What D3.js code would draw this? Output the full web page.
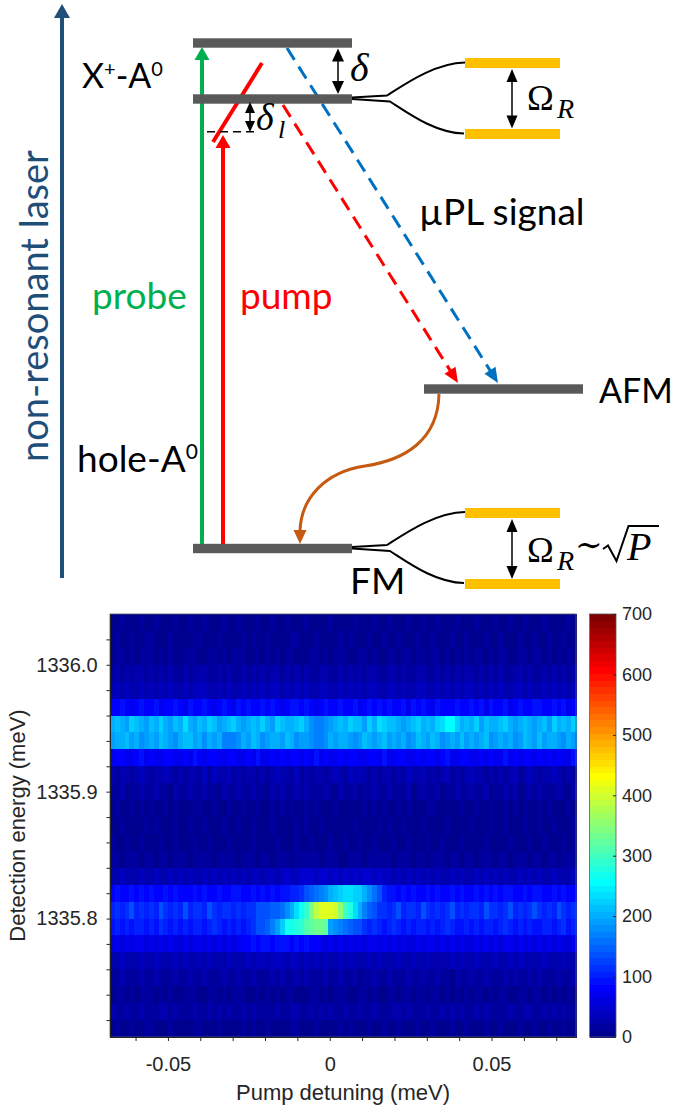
<!DOCTYPE html>
<html>
<head>
<meta charset="utf-8">
<script src="https://cdn.jsdelivr.net/npm/d3@7"></script>
<style>
  body { margin: 0; background: #fff; }
  svg { display: block; }
</style>
</head>
<body>
<svg id="fig" width="677" height="1108"></svg>
<script>
// ================= data =================
// Pump detuning grid (meV): first column centre and column step
const detuningStart = -0.06715;
const detuningStep = 0.0015;
const detuningCount = 96;
// Detection energy grid (meV): top row centre and row step (rows run high -> low)
const energyTop = 1336.03333;
const energyStep = 0.0133333;

// µPL intensity map, one string per energy row (top -> bottom).
// Each character is counts/12 in base 36; spaces only group columns by eight.
const intensityRows = [
  "00100010 01000100 10010001 00100010 01001000 10000100 00100010 01000100 10010001 00010001 00100100 01000010",
  "01001001 10001000 01100010 00010100 10000110 00100001 01000100 10010001 00100010 01000100 10001001 00100100",
  "01101011 10101001 11001101 01110010 10101100 01101011 10011010 01101101 10110101 01011010 11001101 10101010",
  "12121221 21212112 12221121 21121212 12212121 21122112 12121221 12212112 21121212 12212121 21122121 12121212",
  "23232232 32323223 23332232 32232323 23323232 32233223 23232332 23323223 32232323 23323232 32233232 23232323",
  "77876787 78677876 87787678 76878778 78767887 87678778 77867878 78778687 87687778 77878687 78678778 87787867",
  "hihgjihg ihjhgihk hgihjigh ijhghihj hgjihhij hfeefghi hjiigjhk jiihghij hihjkllj hihjgihh ijhghihg higjhihj",
  "ghhighfg hgihgfhi ighfhghe eefhgihf ghhgihfg gfeefhgh hgfgihgh ighghfgi hgihfghg ighghifg hghfgihg ighhgfhg",
  "67766786 76677667 68767766 77667686 67676776 76867667 67766776 86677667 67767866 77667676 68676776 76767668",
  "21221232 12232121 22131322 31212212 12322131 21221232 13232121 22121322 31212312 12322121 21231232 12232121",
  "11201121 12110211 21121102 11211211 02121121 21112102 11201121 12111201 21120112 11211201 12120121 21112102",
  "01001010 10010100 01100100 10010010 01010100 10100010 00001010 10010100 01100000 10010010 01010100 10100010",
  "00100001 01000100 10010001 00100100 01000010 10010000 00100001 01001000 10000100 00100010 01000100 10010001",
  "10010010 00100100 01001000 10000100 00100010 01000100 10010010 00100100 01001000 10000100 00100010 01000101",
  "11011101 10110111 01111011 11011101 10111011 11101110 01110111 11011101 10111011 01101110 11011101 10110111",
  "22322232 23223232 32232323 23232332 33234334 44344343 43434434 33232323 23232232 32232323 23223232 32232223",
  "78778787 87787877 78787787 78877878 7878899a bcdefhij kkjjhfdb 98878787 78787787 87787878 78877878 87787877",
  "9a9ab9a9 a9ba9a9b 9aa9ba9a a9a9aabb bccdfhkm otwyyyxu pnkhecba a9ab9aa9 ba9a9ab9 a9aa9baa 9ab9a9ab a9a9ba9a",
  "89898998 98a98989 89989a98 98989abb cegjmmno qrssrgfe dcbba9a9 89a98989 98989a98 89898998 9a989898 89989a89",
  "56565665 65656556 56656565 65677878 87888787 87765656 56565665 65656556 56656565 65565656 56656565 65656556",
  "22322232 23222323 22323222 32223233 23332332 32323223 23222323 22232232 23222232 32232223 22323222 23222322",
  "11211121 12111211 21121112 11211211 12121121 21112112 11201121 12111211 21121102 11211211 12121121 21112112",
  "01101011 10101001 11001101 01110010 10101100 01101011 10011010 01101101 10110101 01011010 11001101 10101010",
  "21121121 11221211 12112121 21121211 11211221 12121211 21121121 11221211 12112121 21121211 11211221 12121211",
  "01001001 10001000 01100010 00010100 10000110 00100001 01000100 10010001 00100010 01000100 10001001 00100100"
];

const colorLimits = [0, 700];
const colorTicks = [0, 100, 200, 300, 400, 500, 600, 700];
const energyTickValues = [1335.72, 1335.74, 1335.76, 1335.78, 1335.80, 1335.82, 1335.84, 1335.86,
                          1335.88, 1335.90, 1335.92, 1335.94, 1335.96, 1335.98, 1336.00, 1336.02];
const energyTickLabels = [1335.8, 1335.9, 1336.0];
const detuningTickValues = [-0.06, -0.05, -0.04, -0.03, -0.02, -0.01, 0, 0.01, 0.02, 0.03, 0.04, 0.05, 0.06, 0.07];
const detuningTickLabels = [-0.05, 0, 0.05];

// ================= helpers =================
const svg = d3.select('#fig');

const SANS = 'Lato, "Open Sans", sans-serif';
const MATH = '"Liberation Serif", "DejaVu Serif", serif';
const AXFONT = '"Liberation Sans", Arial, Helvetica, sans-serif';
const AXCOL = '#262626';

// MATLAB-style jet colormap with 64 entries
function jetMap(m) {
  const n = Math.ceil(m / 4), u = [];
  for (let j = 1; j <= n; j++) u.push(j / n);
  for (let j = 1; j < n; j++) u.push(1);
  for (let j = n; j >= 1; j--) u.push(j / n);
  const off = Math.ceil(n / 2) - (m % 4 === 1 ? 1 : 0);
  const pick = j => (j >= 1 && j <= u.length) ? u[j - 1] : 0;
  const out = [];
  for (let k = 1; k <= m; k++) {
    const r = pick(k - off - n), g = pick(k - off), b = pick(k - off + n);
    out.push(d3.rgb(r * 255, g * 255, b * 255).formatHex());
  }
  return out;
}
const jet = jetMap(64);
const colorOf = v => {
  const idx = Math.floor((v - colorLimits[0]) / (colorLimits[1] - colorLimits[0]) * jet.length);
  return jet[Math.max(0, Math.min(jet.length - 1, idx))];
};

function arrowHead(g, x1, y1, x2, y2, len, hw, color) {
  const dx = x2 - x1, dy = y2 - y1, L = Math.hypot(dx, dy), ux = dx / L, uy = dy / L;
  const bx = x2 - ux * len, by = y2 - uy * len;
  g.append('polygon')
    .attr('points', [[x2, y2], [bx - uy * hw, by + ux * hw], [bx + uy * hw, by - ux * hw]].map(p => p.join(',')).join(' '))
    .attr('fill', color);
  return [bx + ux, by + uy];
}
function arrow(g, x1, y1, x2, y2, o) {
  const [bx, by] = arrowHead(g, x1, y1, x2, y2, o.len, o.hw, o.color);
  const ln = g.insert('line', 'polygon:last-of-type')
    .attr('x1', x1).attr('y1', y1).attr('x2', bx).attr('y2', by)
    .attr('stroke', o.color).attr('stroke-width', o.width);
  if (o.dash) ln.attr('stroke-dasharray', o.dash);
}
function doubleArrow(g, x, y1, y2, len, hw, width) {
  const a = arrowHead(g, x, y2, x, y1, len, hw, '#000');
  const b = arrowHead(g, x, y1, x, y2, len, hw, '#000');
  g.append('line').attr('x1', x).attr('y1', a[1]).attr('x2', x).attr('y2', b[1])
    .attr('stroke', '#000').attr('stroke-width', width);
}

// ================= energy-level scheme =================
const scheme = svg.append('g');
const GREY = '#595959', GOLD = '#FFC000', NAVY = '#1F4E79', GREEN = '#00B050',
      RED = '#FF0000', BLUE = '#0070C0', RUST = '#C55A11';

const levels = [
  { name: 'X+A0 upper', x1: 193, x2: 352, y: 43 },
  { name: 'X+A0 lower', x1: 193, x2: 352, y: 99 },
  { name: 'AFM', x1: 424, x2: 583, y: 389 },
  { name: 'FM', x1: 193, x2: 352, y: 548.5 }
];
const dressedLevels = [63, 134, 513, 584];

// non-resonant excitation arrow
arrow(scheme, 62, 578, 62, 4, { len: 14, hw: 8, color: NAVY, width: 4 });
scheme.append('text')
  .attr('transform', 'translate(48,306) rotate(-90)')
  .attr('text-anchor', 'middle')
  .attr('font-family', SANS).attr('font-size', 38).attr('fill', NAVY)
  .text('non-resonant laser');

// probe and pump
arrow(scheme, 202, 546, 202, 47, { len: 13, hw: 7.5, color: GREEN, width: 4 });
arrow(scheme, 223, 546, 223, 135, { len: 13, hw: 7.5, color: RED, width: 4 });

// detuned pump line
scheme.append('line').attr('x1', 213).attr('y1', 142).attr('x2', 262).attr('y2', 63)
  .attr('stroke', RED).attr('stroke-width', 4);

// emission paths (dashed)
arrow(scheme, 283, 105, 458, 383, { len: 15, hw: 6.5, color: RED, width: 3, dash: '14,8' });
arrow(scheme, 287, 48, 498, 383, { len: 15, hw: 6.5, color: BLUE, width: 3, dash: '14,8' });

// relaxation AFM -> FM
scheme.append('path')
  .attr('d', 'M439,394 C438,440 405,460 365,466 C325,472 301,498 300,531')
  .attr('fill', 'none').attr('stroke', RUST).attr('stroke-width', 3);
arrowHead(scheme, 300, 520, 300, 544, 14, 6.5, RUST);

// level bars
scheme.selectAll('rect.level').data(levels).join('rect').attr('class', 'level')
  .attr('x', d => d.x1).attr('y', d => d.y - 4.7)
  .attr('width', d => d.x2 - d.x1).attr('height', 9.4).attr('fill', GREY);
scheme.selectAll('rect.dressed').data(dressedLevels).join('rect').attr('class', 'dressed')
  .attr('x', 465).attr('y', d => d - 5).attr('width', 95).attr('height', 10).attr('fill', GOLD);

// splitting into dressed states
[99, 548.5].forEach(y0 => {
  const x0 = 352;
  scheme.append('path')
    .attr('d', `M${x0},${y0 - 1.5} L${x0 + 35},${y0 - 3.5} C${x0 + 53},${y0 - 15} ${x0 + 83},${y0 - 36} ${x0 + 113},${y0 - 36.5}`)
    .attr('fill', 'none').attr('stroke', '#000').attr('stroke-width', 2);
  scheme.append('path')
    .attr('d', `M${x0},${y0} L${x0 + 38},${y0 + 2.5} C${x0 + 56},${y0 + 14} ${x0 + 83},${y0 + 34} ${x0 + 112},${y0 + 34.5}`)
    .attr('fill', 'none').attr('stroke', '#000').attr('stroke-width', 2);
});

// δ_l reference line
scheme.append('line').attr('x1', 207).attr('y1', 131.7).attr('x2', 258).attr('y2', 131.7)
  .attr('stroke', '#000').attr('stroke-width', 1.5).attr('stroke-dasharray', '8,5');

// splittings
doubleArrow(scheme, 338, 48.5, 94, 13, 6, 1.5);
doubleArrow(scheme, 250, 102, 132, 11, 5, 1.5);
doubleArrow(scheme, 512, 69, 128.5, 13, 5.5, 1.5);
doubleArrow(scheme, 512, 519, 579, 13, 5.5, 1.5);

// labels
const lbl = (x, y, color, size) => scheme.append('text').attr('x', x).attr('y', y)
  .attr('font-family', SANS).attr('font-size', size || 37).attr('fill', color || '#000');

const xa = lbl(82, 88, null, 34);
xa.append('tspan').text('X');
xa.append('tspan').attr('dy', -12).attr('font-size', 20).text('+');
xa.append('tspan').attr('dy', 12).text('-A');
xa.append('tspan').attr('dy', -12).attr('font-size', 20).text('0');

const ha = lbl(77, 472);
ha.append('tspan').text('hole-A');
ha.append('tspan').attr('dy', -13).attr('font-size', 21).text('0');

lbl(92, 309, GREEN).text('probe');
lbl(240, 309, RED).text('pump');
lbl(419, 225).text('µPL signal');
lbl(599, 403, null, 34).text('AFM');
lbl(350, 594).text('FM');

// math labels
const math = (x, y, size, italic) => scheme.append('text').attr('x', x).attr('y', y)
  .attr('font-family', MATH).attr('font-size', size).attr('font-style', italic ? 'italic' : 'normal');

math(350, 81, 40, true).text('δ');
math(256, 130, 38, true).text('δ');
math(278, 138, 26, true).text('l');
math(527, 110, 36, false).text('Ω');
math(557, 118, 28, true).text('R');
math(527, 562, 36, false).text('Ω');
math(557, 570, 28, true).text('R');
scheme.append('text').attr('x', 575).attr('y', 556)
  .attr('font-family', '"DejaVu Serif", serif').attr('font-size', 33).text('∼');
scheme.append('path').attr('d', 'M603,549 L608,545.5 L616.5,561 L628.5,526 L659,526')
  .attr('fill', 'none').attr('stroke', '#000').attr('stroke-width', 2).attr('stroke-linejoin', 'miter');
math(627, 560, 40, true).text('P');

// ================= µPL map =================
const plot = { left: 110, right: 576, top: 614, bottom: 1037 };
const detuning = d3.range(detuningCount).map(i => detuningStart + i * detuningStep);
const energies = intensityRows.map((r, k) => energyTop - k * energyStep);
const intensity = intensityRows.map(r => r.replace(/ /g, '').split('').map(c => parseInt(c, 36) * 12));

const x = d3.scaleLinear()
  .domain([detuning[0] - detuningStep / 2, detuning[detuning.length - 1] + detuningStep / 2])
  .range([plot.left, plot.right]);
const y = d3.scaleLinear()
  .domain([energies[energies.length - 1] - energyStep / 2, energies[0] + energyStep / 2])
  .range([plot.bottom, plot.top]);

const cells = [];
intensity.forEach((row, k) => row.forEach((v, i) => cells.push({ e: energies[k], d: detuning[i], v })));

svg.append('g').attr('shape-rendering', 'crispEdges')
  .selectAll('rect').data(cells).join('rect')
  .attr('x', c => x(c.d - detuningStep / 2))
  .attr('y', c => y(c.e + energyStep / 2))
  .attr('width', x(detuningStep) - x(0) + 0.7)
  .attr('height', y(0) - y(energyStep) + 0.7)
  .attr('fill', c => colorOf(c.v));

// frame
svg.append('rect').attr('x', plot.left).attr('y', plot.top)
  .attr('width', plot.right - plot.left).attr('height', plot.bottom - plot.top)
  .attr('fill', 'none').attr('stroke', '#555').attr('stroke-width', 0.8);

const near = (a, list) => list.some(b => Math.abs(a - b) < 1e-6);

const yAxis = svg.append('g').attr('transform', `translate(${plot.left},0)`)
  .call(d3.axisLeft(y).tickValues(energyTickValues).tickSize(3.5).tickSizeOuter(0).tickPadding(9)
    .tickFormat(v => near(v, energyTickLabels) ? v.toFixed(1) : ''));
const xAxis = svg.append('g').attr('transform', `translate(0,${plot.bottom})`)
  .call(d3.axisBottom(x).tickValues(detuningTickValues).tickSize(4).tickSizeOuter(0).tickPadding(16)
    .tickFormat(v => near(v, detuningTickLabels) ? (Math.abs(v) < 1e-9 ? '0' : String(v)) : ''));
[yAxis, xAxis].forEach(a => {
  a.attr('font-family', AXFONT).attr('font-size', 20);
  a.selectAll('path, line').attr('stroke', AXCOL).attr('stroke-width', 1);
  a.selectAll('text').attr('fill', AXCOL);
});

svg.append('text').attr('x', (plot.left + plot.right) / 2).attr('y', 1100)
  .attr('text-anchor', 'middle').attr('font-family', AXFONT).attr('font-size', 22).attr('fill', AXCOL)
  .text('Pump detuning (meV)');
svg.append('text').attr('transform', `translate(25,${(plot.top + plot.bottom) / 2}) rotate(-90)`)
  .attr('text-anchor', 'middle').attr('font-family', AXFONT).attr('font-size', 22).attr('fill', AXCOL)
  .text('Detection energy (meV)');

// colorbar
const cb = { left: 589.5, right: 616, top: 614, bottom: 1037 };
const c = d3.scaleLinear().domain(colorLimits).range([cb.bottom, cb.top]);
const cbStep = (colorLimits[1] - colorLimits[0]) / jet.length;
svg.append('g').attr('shape-rendering', 'crispEdges')
  .selectAll('rect').data(jet).join('rect')
  .attr('x', cb.left).attr('width', cb.right - cb.left)
  .attr('y', (col, i) => c(colorLimits[0] + (i + 1) * cbStep))
  .attr('height', c(0) - c(cbStep) + 0.6)
  .attr('fill', col => col);
svg.append('rect').attr('x', cb.left).attr('y', cb.top)
  .attr('width', cb.right - cb.left).attr('height', cb.bottom - cb.top)
  .attr('fill', 'none').attr('stroke', '#555').attr('stroke-width', 0.8);
const cAxis = svg.append('g').attr('transform', `translate(${cb.right},0)`)
  .call(d3.axisRight(c).tickValues(colorTicks).tickSize(-3).tickSizeOuter(0).tickPadding(6));
cAxis.select('.domain').remove();
cAxis.attr('font-family', AXFONT).attr('font-size', 18);
cAxis.selectAll('line').attr('stroke', AXCOL);
cAxis.selectAll('text').attr('fill', AXCOL);
</script>
</body>
</html>
